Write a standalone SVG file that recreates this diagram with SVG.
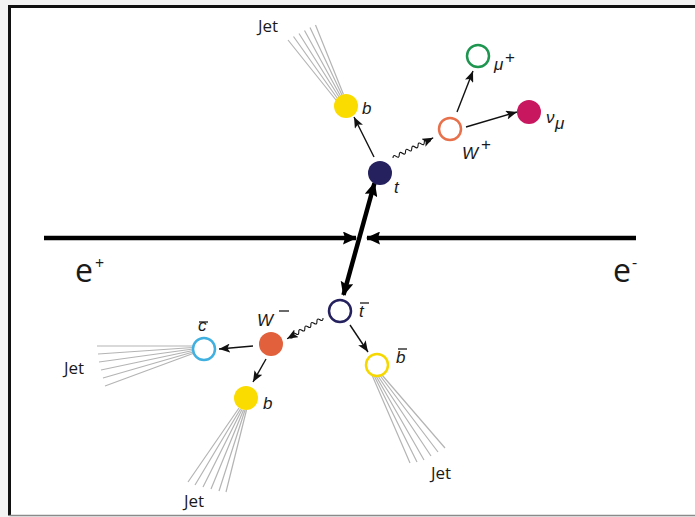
<svg xmlns="http://www.w3.org/2000/svg" width="695" height="517" viewBox="0 0 695 517">
  <style>
    .lbl { font-family: "Liberation Sans", Arial, sans-serif; font-style: italic; font-size: 17px; fill: #1a1a1a; }
    .sup { font-family: "Liberation Sans", Arial, sans-serif; font-size: 17px; fill: #1a1a1a; }
    .jet { font-family: "Open Sans", "Liberation Sans", sans-serif; font-size: 17px; fill: #1a1a1a; }
    .beam { font-family: "Open Sans", "Liberation Sans", sans-serif; font-size: 32px; fill: #1a1a1a; }
    .beamsup { font-family: "Open Sans", "Liberation Sans", sans-serif; font-size: 16px; fill: #1a1a1a; }
    .jetline { stroke: #b4b4b4; stroke-width: 1.2; fill: none; }
    .thin { stroke: #111; stroke-width: 1.4; fill: none; marker-end: url(#sa); }
    .wave { stroke: #111; stroke-width: 1.1; fill: none; }
    .thick { stroke: #000; stroke-width: 4.5; fill: none; }
    .bar { stroke: #1a1a1a; stroke-width: 1.3; }
  </style>
  <defs>
    <marker id="sa" viewBox="0 0 11 9" refX="11" refY="4.5" markerWidth="11" markerHeight="9" markerUnits="userSpaceOnUse" orient="auto">
      <path d="M0,0 L11,4.5 L0,9 L2.5,4.5 z" fill="#111"/>
    </marker>
    <marker id="ta" viewBox="0 0 14 13" refX="13" refY="6.5" markerWidth="14" markerHeight="13" markerUnits="userSpaceOnUse" orient="auto-start-reverse">
      <path d="M0,0 L14,6.5 L0,13 L2,6.5 z" fill="#000"/>
    </marker>
  </defs>

  <!-- page and frame -->
  <rect x="0" y="0" width="695" height="517" fill="#f3f3f3"/>
  <rect x="9.5" y="6.5" width="686" height="509" fill="#ffffff"/>
  <path d="M9.5,515.5 L9.5,6.5 L695,6.5" stroke="#111" stroke-width="3" fill="none"/>
  <line x1="9.5" y1="515.5" x2="695" y2="515.5" stroke="#8a8a8a" stroke-width="1.5"/>

  <!-- connectors -->
  <g id="connectors">
    <!-- beams -->
    <line class="thick" x1="44" y1="238" x2="356" y2="238" marker-end="url(#ta)"/>
    <line class="thick" x1="636" y1="238" x2="367" y2="238" marker-end="url(#ta)"/>
    <!-- t tbar pair -->
    <line class="thick" x1="343.5" y1="295" x2="374.5" y2="183" marker-start="url(#ta)" marker-end="url(#ta)"/>
    <!-- top decay -->
    <line class="thin" x1="374" y1="157" x2="354" y2="117"/>
    <path class="wave" d="M0,0 q1.75,-3.5 3.5,0 t3.5,0 t3.5,0 t3.5,0 t3.5,0 t3.5,0 t3.5,0 t3.5,0 t3.5,0 t3.5,0 t3.5,0 t3.5,0 l3,0" transform="translate(393,158) rotate(-26.6)" marker-end="url(#sa)"/>
    <line class="thin" x1="457" y1="112" x2="473" y2="71"/>
    <line class="thin" x1="466" y1="127" x2="517" y2="112"/>
    <!-- bottom decay -->
    <line class="thin" x1="350" y1="325" x2="368" y2="352"/>
    <path class="wave" d="M0,0 q1.75,-3.5 3.5,0 t3.5,0 t3.5,0 t3.5,0 t3.5,0 t3.5,0 t3.5,0 t3.5,0 t3.5,0 t3.5,0 t3.5,0 l3,0" transform="translate(323,318) rotate(149.9)" marker-end="url(#sa)"/>
    <line class="thin" x1="253" y1="346" x2="219" y2="349"/>
    <line class="thin" x1="266" y1="359" x2="253" y2="382"/>
  </g>

  <!-- jets -->
  <g id="jet-b">
    <path class="jetline" d="M336,100 L288,40 M337.5,98.5 L293.5,36.5 M339,97 L299,33.5 M340.5,96 L304.5,30.5 M342,95 L310,27.5 M343.5,94.5 L315.5,25"/>
    <text class="jet" x="258" y="32">Jet</text>
  </g>
  <g id="jet-cbar">
    <path class="jetline" d="M193,346 L97,346 M193,347.5 L98,354 M193,349 L99,362 M193,350.5 L101,370 M193,352 L103,378 M193,353.5 L105,386"/>
    <text class="jet" x="64" y="374">Jet</text>
  </g>
  <g id="jet-b2">
    <path class="jetline" d="M239,408 L188,482 M240.5,409 L195,485 M242,409.5 L203,487 M243.5,410 L211,489 M245,410 L219,491 M246.5,410 L226,492"/>
    <text class="jet" x="184" y="507">Jet</text>
  </g>
  <g id="jet-bbar">
    <path class="jetline" d="M372,375 L410,463 M374,375.5 L417,462 M376,376 L424,460 M378,376 L431,456 M380,375.5 L438,452 M382,375 L445,448"/>
    <text class="jet" x="431" y="479">Jet</text>
  </g>

  <!-- particles -->
  <g id="node-t">
    <circle cx="380" cy="173" r="12" fill="#24215e"/>
    <text class="lbl" x="394" y="193">t</text>
  </g>
  <g id="node-b">
    <circle cx="346" cy="106" r="12" fill="#fbdc00"/>
    <text class="lbl" x="362" y="114">b</text>
  </g>
  <g id="node-wplus">
    <circle cx="450" cy="129" r="11" fill="#fff" stroke="#e8714b" stroke-width="2.5"/>
    <text class="lbl" x="462" y="159" font-size="20">W</text>
    <text class="sup" x="481" y="150">+</text>
  </g>
  <g id="node-muplus">
    <circle cx="478" cy="56" r="11" fill="#fff" stroke="#1e9650" stroke-width="2.5"/>
    <text class="lbl" x="494" y="70" font-size="18">μ</text>
    <text class="sup" x="505" y="63">+</text>
  </g>
  <g id="node-numu">
    <circle cx="529" cy="112" r="12" fill="#c8175f"/>
    <text class="lbl" x="546" y="123" font-size="18">ν</text>
    <text class="lbl" x="555" y="129" font-size="12">μ</text>
  </g>
  <g id="node-tbar">
    <circle cx="340" cy="311" r="11" fill="#fff" stroke="#24215e" stroke-width="2.5"/>
    <text class="lbl" x="359" y="317">t</text>
    <line class="bar" x1="360" y1="303" x2="369" y2="303"/>
  </g>
  <g id="node-bbar">
    <circle cx="377" cy="365" r="11" fill="#fff" stroke="#f6d800" stroke-width="2.5"/>
    <text class="lbl" x="396" y="363">b</text>
    <line class="bar" x1="398" y1="349" x2="407" y2="349"/>
  </g>
  <g id="node-wminus">
    <circle cx="271" cy="344" r="12" fill="#e2603c"/>
    <text class="lbl" x="257" y="326" font-size="20">W</text>
    <line class="bar" x1="279" y1="311" x2="289" y2="311"/>
  </g>
  <g id="node-cbar">
    <circle cx="204" cy="349" r="11" fill="#fff" stroke="#3fb0e0" stroke-width="2.5"/>
    <text class="lbl" x="198" y="331">c</text>
    <line class="bar" x1="199" y1="322" x2="208" y2="322"/>
  </g>
  <g id="node-b2">
    <circle cx="246" cy="398" r="12" fill="#fbdc00"/>
    <text class="lbl" x="263" y="409">b</text>
  </g>

  <!-- beam labels -->
  <g id="label-eplus">
    <text class="beam" x="75" y="282">e</text>
    <text class="beamsup" x="95" y="269">+</text>
  </g>
  <g id="label-eminus">
    <text class="beam" x="613" y="282">e</text>
    <text class="beamsup" x="632" y="268">-</text>
  </g>
</svg>
